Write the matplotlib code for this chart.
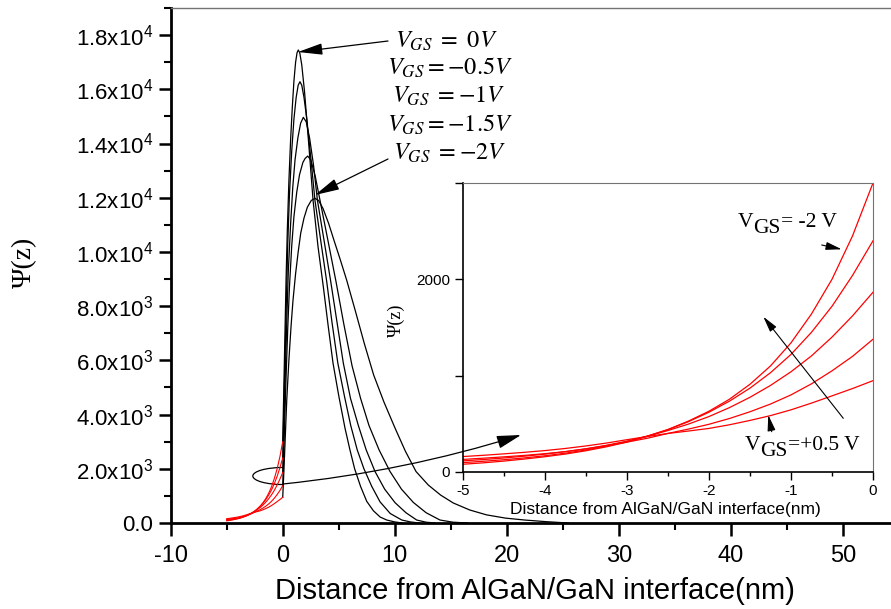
import matplotlib
matplotlib.use('Agg')
import matplotlib.pyplot as plt
from matplotlib.patches import Arc, FancyArrowPatch
from matplotlib.ticker import MultipleLocator

plt.rcParams['font.family'] = ['Liberation Sans', 'DejaVu Sans']
plt.rcParams['mathtext.fontset'] = 'custom'
plt.rcParams['mathtext.rm'] = 'Liberation Sans'
plt.rcParams['mathtext.it'] = 'Liberation Sans:italic'
plt.rcParams['mathtext.bf'] = 'Liberation Sans:bold'

# ---- black curves, z >= 0 (VGS = 0, -0.5, -1, -1.5, -2 V) ----
x_A = [0, 0.1, 0.2, 0.3, 0.41, 0.55, 0.7, 0.85, 1.0, 1.15, 1.28, 1.39, 1.52, 1.7, 1.95, 2.3, 2.71,
       3.15, 3.63, 4.05, 4.49, 5.0, 5.56, 6.0, 6.42, 6.95, 7.5, 8.1, 8.7, 9.29, 10.0, 10.7]
y_A = [3000, 5000, 7000, 9000, 10800, 12600, 14100, 15300, 16300, 17000, 17350, 17450, 17350, 16900,
       15900, 14100, 11900, 10200, 8700, 7300, 5900, 4700, 3500, 2700, 2000, 1350, 800, 450, 220, 110, 40, 0]

x_B = [0, 0.1, 0.2, 0.32, 0.45, 0.6, 0.8, 1.0, 1.2, 1.38, 1.54, 1.7, 1.9, 2.15, 2.5, 2.88, 3.4, 3.93,
       4.4, 4.92, 5.5, 6.07, 6.65, 7.25, 7.95, 8.69, 9.6, 10.63, 11.4, 12.2]
y_B = [2400, 4200, 5900, 8100, 10300, 12100, 13700, 14900, 15700, 16150, 16280, 16150, 15700, 14900,
       13500, 11900, 10400, 8900, 7400, 5900, 4700, 3600, 2700, 2000, 1350, 780, 350, 110, 40, 0]

x_C = [0, 0.12, 0.25, 0.38, 0.5, 0.7, 0.9, 1.1, 1.35, 1.6, 1.84, 2.1, 2.4, 2.75, 3.1, 3.7, 4.29,
       4.85, 5.41, 6.05, 6.75, 7.45, 8.24, 9.1, 10.03, 11.0, 11.96, 12.8, 13.6]
y_C = [1866, 3800, 5800, 7700, 9300, 11000, 12400, 13400, 14200, 14750, 14965, 14800, 14200, 13200,
       11900, 10400, 8900, 7400, 5900, 4600, 3600, 2700, 1900, 1250, 750, 380, 110, 30, 0]

x_D = [0, 0.15, 0.3, 0.45, 0.6, 0.8, 1.0, 1.25, 1.5, 1.8, 2.0, 2.23, 2.5, 2.9, 3.33, 4.0, 4.76,
       5.45, 6.19, 6.95, 7.7, 8.6, 9.58, 10.6, 11.66, 12.8, 14.04, 15.2, 16.5]
y_D = [1378, 3400, 5400, 7200, 8700, 10200, 11300, 12200, 12850, 13300, 13450, 13537, 13400, 12800,
       11900, 10500, 8900, 7350, 5800, 4600, 3600, 2700, 1900, 1250, 760, 380, 110, 30, 0]

x_E = [0, 0.12, 0.24, 0.36, 0.55, 0.75, 0.92, 1.15, 1.38, 1.61, 1.9, 2.2, 2.55, 2.88, 3.2, 3.6, 4.1,
       4.6, 5.15, 5.71, 6.5, 7.3, 8.12, 9.05, 10.03, 10.95, 11.9, 13.0, 14.1, 15.23, 16.7, 18.2,
       19.9, 21.6, 23.5, 25.5]
y_E = [948, 2066, 3300, 4537, 6000, 7300, 8226, 9200, 10000, 10700, 11250, 11650, 11900, 11977,
       11900, 11600, 11050, 10400, 9700, 8960, 7800, 6600, 5460, 4450, 3500, 2650, 1900, 1400, 1030,
       738, 480, 300, 180, 110, 50, 0]

# ---- red curves, -5 <= z <= 0 ----
x_red = [-5, -4.75, -4.5, -4.25, -4, -3.75, -3.5, -3.25, -3, -2.75, -2.5, -2.25, -2, -1.75, -1.5,
         -1.25, -1, -0.75, -0.5, -0.25, 0]
red_1 = [80, 95, 113, 134, 158, 186, 220, 261, 310, 370, 440, 528, 630, 755, 910, 1100, 1340, 1640,
         2000, 2450, 3000]
red_2 = [97, 111, 127, 146, 168, 195, 228, 268, 315, 373, 440, 522, 620, 735, 870, 1030, 1220, 1450,
         1720, 2040, 2400]
red_3 = [115, 129, 145, 164, 185, 211, 240, 277, 320, 371, 430, 497, 575, 668, 775, 898, 1040, 1205,
         1400, 1620, 1866]
red_4 = [130, 143, 157, 172, 190, 211, 240, 272, 310, 350, 400, 445, 495, 555, 625, 705, 800, 915,
         1050, 1200, 1378]
red_5 = [160, 173, 188, 204, 222, 244, 270, 300, 335, 368, 400, 425, 452, 490, 535, 585, 645, 715,
         790, 866, 948]

main_xticks = [-10, 0, 10, 20, 30, 40, 50]
main_xticklabels = ['-10', '0', '10', '20', '30', '40', '50']
main_yticks = [0, 2000, 4000, 6000, 8000, 10000, 12000, 14000, 16000, 18000]
main_yticklabels = ['0.0', '2.0x10$^3$', '4.0x10$^3$', '6.0x10$^3$', '8.0x10$^3$',
                    '1.0x10$^4$', '1.2x10$^4$', '1.4x10$^4$', '1.6x10$^4$', '1.8x10$^4$']
inset_xticks = [-5, -4, -3, -2, -1, 0]
inset_xticklabels = ['-5', '-4', '-3', '-2', '-1', '0']
inset_yticks = [0, 1000, 2000, 3000]
inset_yticklabels = ['0', '', '2000', '']

vgs_labels = [r'$V_{GS}\ =\ 0V$', r'$V_{GS}=-0.5V$', r'$V_{GS}\ =-1V$',
              r'$V_{GS}=-1.5V$', r'$V_{GS}\ =-2V$']

W, H = 891, 609


def fp(px, py):
    # pixel position -> figure fraction
    return (px / W, 1 - py / H)


fig = plt.figure(figsize=(8.91, 6.09), dpi=100)
ax = fig.add_axes([0.1916, 0.1412, 0.8171, 0.8457])

for xs, ys in [(x_A, y_A), (x_B, y_B), (x_C, y_C), (x_D, y_D), (x_E, y_E)]:
    ax.plot(xs, ys, color='black', lw=0.9)
for ys in [red_1, red_2, red_3, red_4, red_5]:
    ax.plot(x_red, ys, color='red', lw=0.8)

ax.set_xlim(-10, 55)
ax.set_ylim(0, 19000)
ax.set_xticks(main_xticks)
ax.set_xticklabels(main_xticklabels)
ax.set_yticks(main_yticks)
ax.set_yticklabels(main_yticklabels)
ax.xaxis.set_minor_locator(MultipleLocator(5))
ax.yaxis.set_minor_locator(MultipleLocator(1000))
ax.tick_params(which='major', direction='out', length=9, width=1.8, labelsize=16)
ax.tick_params(which='minor', direction='out', length=5, width=1.5)
ax.tick_params(axis='x', which='major', labelsize=17, pad=7)
for s in ['left', 'bottom']:
    ax.spines[s].set_linewidth(2)
ax.spines['top'].set_linewidth(1)
ax.spines['top'].set_color('0.45')
ax.spines['right'].set_visible(False)
ax.set_xlabel('Distance from AlGaN/GaN interface(nm)', fontsize=21)
ax.xaxis.set_label_coords(0.5, -0.105)
ax.set_ylabel('Ψ(z)', family='Liberation Serif', fontsize=20)
ax.yaxis.set_label_coords(-0.184, 0.507)

# ellipse marking the barrier region
ax.add_patch(Arc((0.03, 1734), 5.4, 630, theta1=90, theta2=270, lw=0.9, color='black'))

# labels of the main plot
label_pos = [(395, 48), (387, 75), (392, 103), (387, 132), (393, 160)]
for (px, py), lab in zip(label_pos, vgs_labels):
    fig.text(*fp(px, py), lab, fontsize=17.5, va='baseline', math_fontfamily='stix')

arrow_kw = dict(arrowstyle='-|>,head_length=1.5,head_width=0.35', mutation_scale=10,
                color='black', lw=0.9, shrinkA=0, shrinkB=0, transform=fig.transFigure)
fig.add_artist(FancyArrowPatch(fp(388, 41), fp(298, 52), **arrow_kw))
fig.add_artist(FancyArrowPatch(fp(388, 159), fp(315, 195), **arrow_kw))

# ---- inset ----
ins = fig.add_axes([0.5193, 0.2250, 0.4605, 0.4745])
for ys in [red_1, red_2, red_3, red_4, red_5]:
    ins.plot(x_red, ys, color='red', lw=0.9)
ins.set_xlim(-5, 0)
ins.set_ylim(0, 3000)
ins.set_xticks(inset_xticks)
ins.set_xticklabels(inset_xticklabels)
ins.set_yticks(inset_yticks)
ins.set_yticklabels(inset_yticklabels)
ins.xaxis.set_minor_locator(MultipleLocator(0.5))
ins.tick_params(which='major', direction='out', length=6, width=1, labelsize=11, pad=3)
ins.tick_params(which='minor', direction='out', length=3, width=1)
for s in ['left', 'bottom']:
    ins.spines[s].set_linewidth(1.2)
for s in ['top', 'right']:
    ins.spines[s].set_linewidth(0.8)
    ins.spines[s].set_color('0.45')
ins.set_xlabel('Distance from AlGaN/GaN interface(nm)', fontsize=12.5)
ins.xaxis.set_label_coords(0.495, -0.105)
ins.set_ylabel('Ψ(z)', family='Liberation Serif', fontsize=13)
ins.yaxis.set_label_coords(-0.14, 0.526)

# inset labels, V with a lowered GS
serif = dict(family='Liberation Serif', fontsize=15.5)
for px, py, rest in [(738, 226.7, '= -2 V'), (745, 450, '=+0.5 V')]:
    fx, fy = fp(px, py)
    t1 = fig.text(fx, fy, 'V', va='baseline', **serif)
    t2 = ins.annotate('GS', xy=(1, fy - 6 / H), xycoords=(t1, 'figure fraction'),
                      va='baseline', ha='left', **serif)
    ins.annotate(rest, xy=(1, fy), xycoords=(t2, 'figure fraction'),
                 va='baseline', ha='left', **serif)

small_kw = dict(arrowstyle='-|>,head_length=1.2,head_width=0.3', mutation_scale=8,
                color='black', lw=0.8, shrinkA=0, shrinkB=0, transform=fig.transFigure)
fig.add_artist(FancyArrowPatch(fp(821.7, 245), fp(841.7, 249.3), **small_kw))
fig.add_artist(FancyArrowPatch(fp(771.7, 431.7), fp(768.3, 415), **small_kw))
fig.add_artist(FancyArrowPatch(fp(843.3, 418.3), fp(763.3, 316.7), **small_kw))

# line from the ellipse to the inset
fig.add_artist(FancyArrowPatch(fp(283, 484), fp(521, 435),
                               arrowstyle='-|>,head_length=1.5,head_width=0.4', mutation_scale=10,
                               color='black', lw=0.9, shrinkA=0, shrinkB=0,
                               connectionstyle='arc3,rad=0.05', transform=fig.transFigure))

fig.savefig('out.png', dpi=100)
